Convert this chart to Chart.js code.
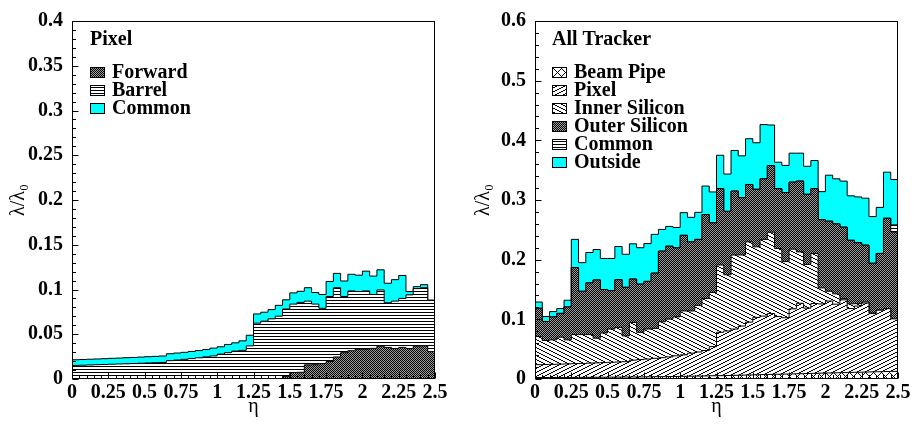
<!DOCTYPE html>
<html>
<head>
<meta charset="utf-8">
<script src="https://cdn.jsdelivr.net/npm/chart.js@4/dist/chart.umd.min.js"></script>
<style>
  html, body { margin: 0; padding: 0; background: #fff; }
  #wrap { position: relative; width: 914px; height: 425px; overflow: hidden; }
  .panel { position: absolute; top: 0; width: 457px; height: 425px; }
  canvas { display: block; }
</style>
</head>
<body>
<div id="wrap">
  <div class="panel" style="left:0"><canvas id="pixelChart" width="457" height="425"></canvas></div>
  <div class="panel" style="left:457px"><canvas id="trackerChart" width="457" height="425"></canvas></div>
</div>
<script>
// ---- binning in pseudorapidity: 50 bins of 0.05 from 0 to 2.5 ----
const ETA_MAX = 2.5;
const etaLow = [
  0.00, 0.05, 0.10, 0.15, 0.20, 0.25, 0.30, 0.35, 0.40, 0.45,
  0.50, 0.55, 0.60, 0.65, 0.70, 0.75, 0.80, 0.85, 0.90, 0.95,
  1.00, 1.05, 1.10, 1.15, 1.20, 1.25, 1.30, 1.35, 1.40, 1.45,
  1.50, 1.55, 1.60, 1.65, 1.70, 1.75, 1.80, 1.85, 1.90, 1.95,
  2.00, 2.05, 2.10, 2.15, 2.20, 2.25, 2.30, 2.35, 2.40, 2.45
];

// ---- Pixel detector: interaction length per bin (lambda/lambda0) ----
const pixelForward = [
  0, 0, 0, 0, 0, 0, 0, 0, 0, 0,
  0, 0, 0, 0, 0, 0, 0, 0, 0, 0,
  0, 0, 0, 0, 0, 0, 0, 0, 0, 0.0030,
  0.0073, 0.0075, 0.0158, 0.0160, 0.0173, 0.0195, 0.0246, 0.0294, 0.0316, 0.0334,
  0.0334, 0.0342, 0.0367, 0.0353, 0.0340, 0.0353, 0.0340, 0.0367, 0.0371, 0.0305
];
const pixelBarrel = [
  0.0152, 0.0154, 0.0157, 0.0160, 0.0162, 0.0165, 0.0168, 0.0170, 0.0173, 0.0176,
  0.0179, 0.0182, 0.0185, 0.0205, 0.0212, 0.0220, 0.0228, 0.0237, 0.0247, 0.0258,
  0.0278, 0.0294, 0.0312, 0.0320, 0.0370, 0.0624, 0.0646, 0.0672, 0.0702, 0.0752,
  0.0764, 0.0781, 0.0712, 0.0677, 0.0617, 0.0727, 0.0774, 0.0628, 0.0668, 0.0643,
  0.0650, 0.0602, 0.0628, 0.0499, 0.0530, 0.0547, 0.0600, 0.0643, 0.0649, 0.0575
];
const pixelCommon = [
  0.0063, 0.0064, 0.0064, 0.0064, 0.0065, 0.0066, 0.0066, 0.0068, 0.0068, 0.0069,
  0.0070, 0.0071, 0.0072, 0.0077, 0.0078, 0.0078, 0.0080, 0.0081, 0.0083, 0.0087,
  0.0082, 0.0092, 0.0092, 0.0106, 0.0119, 0.0103, 0.0100, 0.0103, 0.0121, 0.0103,
  0.0125, 0.0124, 0.0150, 0.0129, 0.0154, 0.0168, 0.0160, 0.0173, 0.0186, 0.0183,
  0.0221, 0.0206, 0.0225, 0.0218, 0.0240, 0.0257, 0.0037, 0.0022, 0.0034, 0
];

// ---- Whole tracker: interaction length per bin (lambda/lambda0) ----
const trkBeamPipe = [
  0.0025, 0.0025, 0.0025, 0.0026, 0.0026, 0.0027, 0.0027, 0.0028, 0.0029, 0.0030,
  0.0031, 0.0032, 0.0033, 0.0034, 0.0035, 0.0036, 0.0038, 0.0039, 0.0041, 0.0043,
  0.0045, 0.0047, 0.0049, 0.0051, 0.0054, 0.0056, 0.0059, 0.0062, 0.0065, 0.0068,
  0.0071, 0.0074, 0.0077, 0.0080, 0.0083, 0.0086, 0.0089, 0.0092, 0.0095, 0.0098,
  0.0101, 0.0104, 0.0107, 0.0110, 0.0113, 0.0116, 0.0119, 0.0122, 0.0125, 0.0128
];
const trkPixel = [
  0.0215, 0.0218, 0.0221, 0.0224, 0.0227, 0.0231, 0.0234, 0.0238, 0.0241, 0.0245,
  0.0249, 0.0253, 0.0257, 0.0282, 0.0290, 0.0298, 0.0308, 0.0318, 0.0330, 0.0345,
  0.0360, 0.0386, 0.0404, 0.0426, 0.0489, 0.0727, 0.0746, 0.0775, 0.0823, 0.0885,
  0.0962, 0.0980, 0.1020, 0.0966, 0.0944, 0.1090, 0.1180, 0.1095, 0.1170, 0.1160,
  0.1205, 0.1150, 0.1220, 0.1070, 0.1110, 0.1157, 0.0977, 0.1032, 0.1054, 0.0880
];
const trkInnerSilicon = [
  0.0471, 0.0402, 0.0410, 0.0450, 0.0403, 0.0486, 0.0483, 0.0478, 0.0413, 0.0496,
  0.0557, 0.0580, 0.0432, 0.0632, 0.0457, 0.0503, 0.0502, 0.0602, 0.0632, 0.0653,
  0.0735, 0.0707, 0.0781, 0.0873, 0.0907, 0.1127, 0.0942, 0.1241, 0.1190, 0.1345,
  0.1182, 0.1286, 0.1363, 0.1141, 0.0940, 0.1000, 0.0861, 0.0733, 0.0839, 0.0268,
  0.0164, 0.0173, 0.0020, 0.0080, 0.0040, 0.0020, 0.0010, 0, 0, 0
];
const trkOuterSilicon = [
  0.0474, 0.0319, 0.0384, 0.0400, 0.0551, 0.1124, 0.0726, 0.0866, 0.0977, 0.0729,
  0.0643, 0.0799, 0.0815, 0.0727, 0.0808, 0.0799, 0.0926, 0.1184, 0.1223, 0.1157,
  0.1268, 0.1158, 0.1106, 0.1405, 0.1167, 0.1280, 0.1063, 0.1072, 0.0962, 0.0962,
  0.0965, 0.1015, 0.1116, 0.1003, 0.1157, 0.1124, 0.1187, 0.1176, 0.1086, 0.1144,
  0.1175, 0.1173, 0.1198, 0.1065, 0.1023, 0.0950, 0.0834, 0.0950, 0.1515, 0.1455
];
const trkCommon = [
  0, 0, 0, 0, 0, 0, 0, 0, 0, 0,
  0, 0, 0, 0, 0, 0, 0, 0, 0, 0,
  0, 0, 0, 0, 0, 0, 0, 0, 0, 0,
  0, 0, 0, 0, 0, 0, 0, 0, 0, 0,
  0, 0, 0, 0, 0, 0, 0, 0, 0, 0.0120
];
const trkOutside = [
  0.0105, 0.0083, 0.0090, 0.0080, 0.0113, 0.0472, 0.0480, 0.0510, 0.0510, 0.0520,
  0.0540, 0.0556, 0.0553, 0.0590, 0.0610, 0.0634, 0.0650, 0.0364, 0.0331, 0.0342,
  0.0380, 0.0412, 0.0453, 0.0479, 0.0518, 0.0560, 0.0625, 0.0680, 0.0700, 0.0767,
  0.0780, 0.0909, 0.0681, 0.0443, 0.0456, 0.0485, 0.0468, 0.0469, 0.0472, 0.0470,
  0.0771, 0.0755, 0.0772, 0.0745, 0.0766, 0.0787, 0.0782, 0.0772, 0.0772, 0.0760
];

// ---- fill patterns (white tiles with black hatching) ----
function tile(w, h, paint) {
  const c = document.createElement('canvas');
  c.width = w; c.height = h;
  const g = c.getContext('2d');
  g.fillStyle = '#fff';
  g.fillRect(0, 0, w, h);
  g.fillStyle = '#000';
  paint(g, w, h);
  return c;
}
const tiles = {
  checker: tile(2, 2, g => {
    g.fillRect(0, 0, 1, 1); g.fillRect(1, 1, 1, 1);
    g.fillStyle = '#9a9a9a';
    g.fillRect(1, 0, 1, 1); g.fillRect(0, 1, 1, 1);
  }),
  horizontal: tile(4, 3, (g, w) => { g.fillRect(0, 0, w, 1); }),
  rising: tile(8, 4, g => { for (let x = 0; x < 8; x++) g.fillRect(x, 3 - Math.floor(x / 2), 1, 1); }),
  falling: tile(8, 4, g => { for (let x = 0; x < 8; x++) g.fillRect(x, Math.floor(x / 2), 1, 1); }),
  diamond: tile(8, 8, g => {
    for (let x = 0; x < 8; x++) {
      const d = 4 - Math.abs(x - 4);
      g.fillRect(x, (4 - d + 8) % 8, 1, 1);
      g.fillRect(x, (4 + d) % 8, 1, 1);
    }
  })
};
function fillFor(ctx, kind) {
  if (kind === 'cyan') return '#00ffff';
  return ctx.createPattern(tiles[kind], 'repeat');
}

const FONT = "'Liberation Serif', 'Times New Roman', serif";
const fmt = v => String(parseFloat(Number(v).toFixed(4)));

function steps(values) {
  const pts = values.map((v, i) => ({ x: etaLow[i], y: v }));
  pts.push({ x: ETA_MAX, y: values[values.length - 1] });
  return pts;
}

// frame, inward ticks, panel title and legend
function decorPlugin(cfg) {
  return {
    id: 'rootDecor',
    afterDraw(chart) {
      const { ctx, chartArea: a, scales: { x, y } } = chart;
      const L = Math.round(a.left) + 0.5, R = Math.round(a.right) - 0.5;
      const T = Math.round(a.top) + 0.5, B = Math.round(a.bottom) - 0.5;
      ctx.save();
      ctx.strokeStyle = '#000';
      ctx.lineWidth = 1;
      ctx.beginPath();
      // y ticks
      const ny = Math.round(cfg.yMax / cfg.yMinor);
      for (let k = 0; k <= ny; k++) {
        const py = Math.round(y.getPixelForValue(k * cfg.yMinor)) + 0.5;
        const len = (k % cfg.yMajorEvery === 0) ? 6 : 3.5;
        ctx.moveTo(L, py); ctx.lineTo(L + len, py);
      }
      // x ticks
      const nx = Math.round(ETA_MAX / 0.05);
      for (let k = 0; k <= nx; k++) {
        const px = Math.round(x.getPixelForValue(k * 0.05)) + 0.5;
        const len = (k % 5 === 0) ? 6 : 3.5;
        ctx.moveTo(px, B); ctx.lineTo(px, B - len);
      }
      ctx.stroke();
      ctx.strokeRect(L, T, R - L, B - T);

      // panel title
      ctx.fillStyle = '#000';
      ctx.font = 'bold 20px ' + FONT;
      ctx.textBaseline = 'alphabetic';
      ctx.textAlign = 'left';
      ctx.fillText(cfg.title, cfg.legendX, 45);

      // legend
      cfg.entries.forEach((e, i) => {
        const top = 67 + i * 18;
        ctx.fillStyle = fillFor(ctx, e.fill);
        ctx.fillRect(cfg.legendX, top, 15, 11);
        ctx.strokeStyle = '#000';
        ctx.strokeRect(cfg.legendX + 0.5, top + 0.5, 14, 10);
        ctx.fillStyle = '#000';
        ctx.fillText(e.label, cfg.legendX + 22, top + 10.5);
      });
      ctx.restore();
    }
  };
}

function buildChart(canvasId, layers, cfg) {
  const canvas = document.getElementById(canvasId);
  const ctx = canvas.getContext('2d');
  const datasets = layers.map((layer, k) => ({
    label: layer.label,
    data: steps(layer.values),
    stepped: true,
    fill: k === 0 ? 'origin' : '-1',
    backgroundColor: fillFor(ctx, layer.fill),
    borderColor: '#000',
    borderWidth: 1,
    pointRadius: 0,
    pointHoverRadius: 0
  }));
  const tickFont = { family: FONT, size: 20, weight: 'bold' };
  return new Chart(canvas, {
    type: 'line',
    data: { datasets },
    options: {
      responsive: false,
      animation: false,
      devicePixelRatio: 1,
      events: [],
      layout: { padding: { left: 0, top: 16, right: cfg.padRight, bottom: 0 } },
      plugins: { legend: { display: false }, tooltip: { enabled: false } },
      scales: {
        x: {
          type: 'linear', min: 0, max: ETA_MAX,
          grid: { display: false, drawTicks: false },
          border: { display: false },
          ticks: { stepSize: 0.25, font: tickFont, color: '#000', padding: 2,
                   maxRotation: 0, autoSkip: false, callback: fmt },
          title: { display: true, text: 'η', color: '#000',
                   font: { family: FONT, size: 20 }, padding: { top: 0, bottom: 6 } },
          afterFit: s => { s.height = 46; }
        },
        y: {
          type: 'linear', stacked: true, min: 0, max: cfg.yMax,
          grid: { display: false, drawTicks: false },
          border: { display: false },
          ticks: { stepSize: cfg.yStep, font: tickFont, color: '#000', padding: 9, callback: fmt },
          title: { display: true, text: 'λ/λ₀', color: '#000',
                   font: { family: FONT, size: 20 }, padding: { top: cfg.titlePad, bottom: 0 } },
          afterFit: s => { s.width = cfg.axisLeft; }
        }
      }
    },
    plugins: [decorPlugin(cfg)]
  });
}

buildChart('pixelChart', [
  { label: 'Forward', values: pixelForward, fill: 'checker' },
  { label: 'Barrel', values: pixelBarrel, fill: 'horizontal' },
  { label: 'Common', values: pixelCommon, fill: 'cyan' }
], {
  yMax: 0.4, yStep: 0.05, yMinor: 0.01, yMajorEvery: 5,
  axisLeft: 72, padRight: 22, titlePad: 7, legendX: 90,
  title: 'Pixel',
  entries: [
    { label: 'Forward', fill: 'checker' },
    { label: 'Barrel', fill: 'horizontal' },
    { label: 'Common', fill: 'cyan' }
  ]
});

buildChart('trackerChart', [
  { label: 'Beam Pipe', values: trkBeamPipe, fill: 'diamond' },
  { label: 'Pixel', values: trkPixel, fill: 'rising' },
  { label: 'Inner Silicon', values: trkInnerSilicon, fill: 'falling' },
  { label: 'Outer Silicon', values: trkOuterSilicon, fill: 'checker' },
  { label: 'Common', values: trkCommon, fill: 'horizontal' },
  { label: 'Outside', values: trkOutside, fill: 'cyan' }
], {
  yMax: 0.6, yStep: 0.1, yMinor: 0.02, yMajorEvery: 5,
  axisLeft: 78, padRight: 16, titlePad: 15, legendX: 95,
  title: 'All Tracker',
  entries: [
    { label: 'Beam Pipe', fill: 'diamond' },
    { label: 'Pixel', fill: 'rising' },
    { label: 'Inner Silicon', fill: 'falling' },
    { label: 'Outer Silicon', fill: 'checker' },
    { label: 'Common', fill: 'horizontal' },
    { label: 'Outside', fill: 'cyan' }
  ]
});
</script>
</body>
</html>
